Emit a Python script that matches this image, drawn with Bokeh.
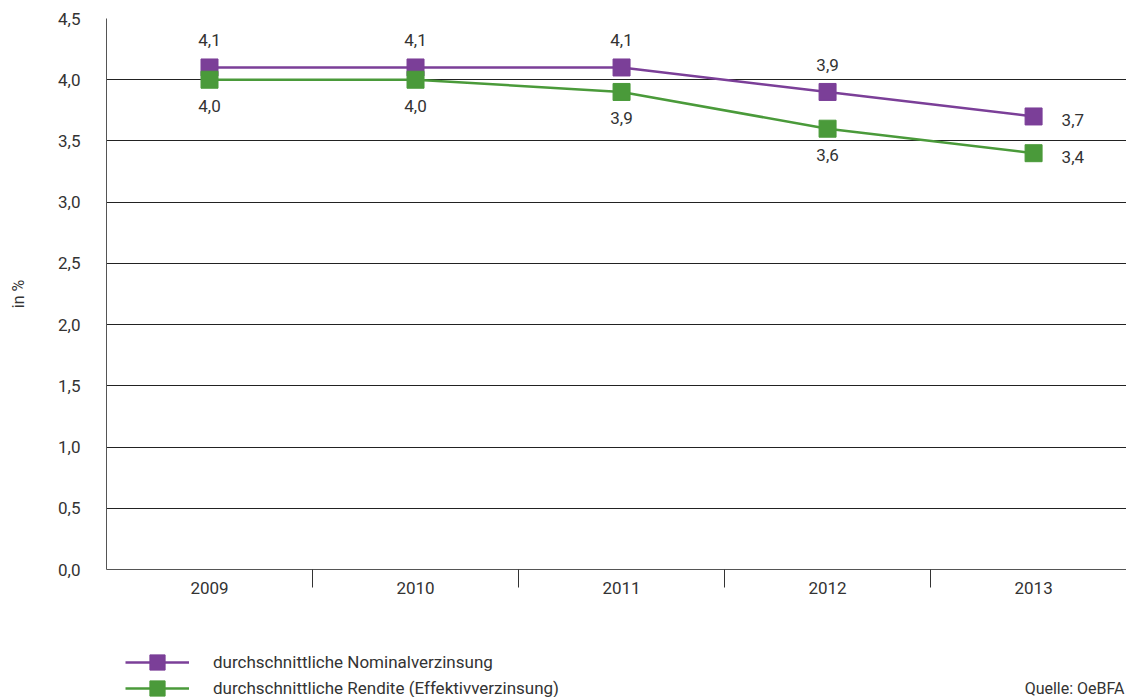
from bokeh.plotting import figure
from bokeh.layouts import column
from bokeh.models import Range1d, FixedTicker, Legend, LegendItem, Label, ColumnDataSource
from bokeh.core.properties import value
from bokeh.embed import file_html
from bokeh.resources import INLINE

years = ["2009", "2010", "2011", "2012", "2013"]
nominal = [4.1, 4.1, 4.1, 3.9, 3.7]
rendite = [4.0, 4.0, 3.9, 3.6, 3.4]
series_names = ["durchschnittliche Nominalverzinsung", "durchschnittliche Rendite (Effektivverzinsung)"]
y_ticks = [0.0, 0.5, 1.0, 1.5, 2.0, 2.5, 3.0, 3.5, 4.0, 4.5]
y_tick_labels = ["0,0", "0,5", "1,0", "1,5", "2,0", "2,5", "3,0", "3,5", "4,0", "4,5"]
y_title = "in %"
source_note = "Quelle: OeBFA"

FONT = "Roboto"
FS = "17px"
TXT = "#333333"
PURPLE = "#7b3f98"
GREEN = "#4a9a3a"
series = [(nominal, PURPLE, series_names[0], True), (rendite, GREEN, series_names[1], False)]

xs = [i + 0.5 for i in range(len(years))]

p = figure(width=1126, height=605, output_backend="svg", toolbar_location=None,
           x_range=Range1d(0, 4.951), y_range=Range1d(0, 4.5),
           min_border_left=106, min_border_right=0, min_border_top=18, min_border_bottom=36)
p.outline_line_color = None
p.background_fill_color = "white"
p.border_fill_color = "white"

# x axis
xa = p.xaxis[0]
xa.ticker = FixedTicker(ticks=xs, minor_ticks=[1, 2, 3, 4])
xa.major_label_overrides = {x: y for x, y in zip(xs, years)}
xa.major_tick_in = 0
xa.major_tick_out = 0
xa.minor_tick_in = 0
xa.minor_tick_out = 18
xa.minor_tick_line_color = "#333333"
xa.axis_line_color = "#555555"
xa.major_label_text_font = FONT
xa.major_label_text_font_size = FS
xa.major_label_text_color = TXT
xa.major_label_standoff = -6

# y axis
ya = p.yaxis[0]
ya.ticker = FixedTicker(ticks=y_ticks)
ya.major_label_overrides = {t: l for t, l in zip(y_ticks, y_tick_labels)}
ya.major_tick_in = 0
ya.major_tick_out = 0
ya.minor_tick_line_color = None
ya.axis_line_color = "#555555"
ya.major_label_text_font = FONT
ya.major_label_text_font_size = FS
ya.major_label_text_color = TXT
ya.major_label_standoff = 26
ya.axis_label = y_title
ya.axis_label_text_font = FONT
ya.axis_label_text_font_size = "16px"
ya.axis_label_text_font_style = "normal"
ya.axis_label_text_color = TXT
ya.axis_label_standoff = 27

p.xgrid.grid_line_color = None
p.ygrid.ticker = FixedTicker(ticks=y_ticks)
p.ygrid.grid_line_color = "#222222"
p.ygrid.grid_line_width = 1

for vals, col, name, above in series:
    p.line(xs, vals, line_color=col, line_width=2.5)
    p.scatter(xs, vals, marker="square", size=17, fill_color=col, line_color=col)
    labels = [f"{v:.1f}".replace(".", ",") for v in vals]
    n = len(vals)
    xoff = [0] * (n - 1) + [28]
    yoff = [(-27 if above else 26)] * (n - 1) + [4]
    align = ["center"] * (n - 1) + ["left"]
    src = ColumnDataSource(dict(x=xs, y=vals, t=labels, xo=xoff, yo=yoff, al=align))
    p.text(x="x", y="y", text="t", x_offset="xo", y_offset="yo", source=src,
           text_align="al", text_baseline="middle", text_font=value(FONT),
           text_font_size=FS, text_color=TXT)

# legend / source strip below the chart (its own frame is aligned with the chart's)
p2 = figure(width=1126, height=92, output_backend="svg", toolbar_location=None,
            x_range=Range1d(0, 1), y_range=Range1d(0, 1),
            x_axis_type=None, y_axis_type=None, min_border=0)
p2.outline_line_color = None
p2.grid.grid_line_color = None
p2.background_fill_color = "white"
p2.border_fill_color = "white"

# one single-entry legend per series, so the rows can sit closer than the glyph height
row_y = [16, -10]
for (vals, col, name, above), ly in zip(series, row_y):
    # same series, outside this strip's visible range; only their legend glyphs show
    ln = p2.line(xs, vals, line_color=col, line_width=2.5)
    sc = p2.scatter(xs, vals, marker="square", size=17, fill_color=col, line_color=col)
    lg = Legend(items=[LegendItem(label=name, renderers=[ln, sc])],
                orientation="vertical", location=(19, ly),
                glyph_width=64, glyph_height=38, spacing=0, padding=0, margin=0,
                label_standoff=24, label_text_font=FONT, label_text_font_size=FS,
                label_text_color=TXT, border_line_color=None, background_fill_alpha=0,
                label_height=20)
    p2.add_layout(lg)

note = Label(x=1018, y=9, x_units="screen", y_units="screen", text=source_note,
             text_align="right", text_baseline="middle",
             text_font=FONT, text_font_size="16px", text_color=TXT)
p2.add_layout(note)

open("out.html", "w").write(file_html(column(p, p2), INLINE))
